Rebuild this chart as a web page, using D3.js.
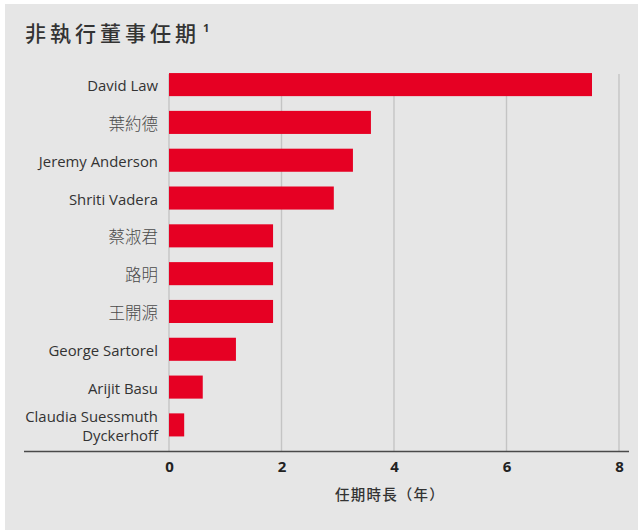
<!DOCTYPE html>
<html>
<head>
<meta charset="utf-8">
<script src="https://cdn.jsdelivr.net/npm/d3@7/dist/d3.min.js"></script>
<style>
  html, body { margin: 0; padding: 0; background: #ffffff; }
  svg { display: block; }
</style>
</head>
<body>
<svg id="chart" width="638" height="531"></svg>
<script>
// Tenure of non-executive directors, in years
const directors = [
  ["David Law"],
  ["葉約德"],
  ["Jeremy Anderson"],
  ["Shriti Vadera"],
  ["蔡淑君"],
  ["路明"],
  ["王開源"],
  ["George Sartorel"],
  ["Arijit Basu"],
  ["Claudia Suessmuth", "Dyckerhoff"]
];
const tenureYears = [7.52, 3.59, 3.27, 2.93, 1.85, 1.85, 1.85, 1.19, 0.60, 0.27];
const xTicks = [0, 2, 4, 6, 8];

const chartTitle = "非執行董事任期";
const titleNote = "1";
const axisTitle = "任期時長（年）";

const latinFont = "'Open Sans', 'Noto Sans', 'Noto Sans CJK TC', sans-serif";
const cjkFont = "'Noto Sans CJK TC', 'Noto Sans', sans-serif";

const svg = d3.select("#chart");
const W = 638, H = 531;

// panel background
svg.append("rect")
  .attr("x", 5).attr("y", 4)
  .attr("width", W - 5).attr("height", 526)
  .attr("fill", "#e6e6e6");

const axisY = 451.5;

const x = d3.scaleLinear()
  .domain([0, 8])
  .range([169, 619]);

const keys = directors.map((d, i) => i);
const y = d3.scaleBand()
  .domain(keys)
  .range([65.5, 444])
  .paddingInner(0.39)
  .paddingOuter(0.2);

// title with footnote marker
const title = svg.append("text")
  .attr("x", 25).attr("y", 41)
  .attr("font-family", cjkFont)
  .attr("font-size", 21)
  .attr("font-weight", 500)
  .attr("letter-spacing", 4)
  .attr("fill", "#333333")
  .text(chartTitle);
svg.append("text")
  .attr("x", 203).attr("y", 32)
  .attr("font-family", latinFont)
  .attr("font-size", 11)
  .attr("font-weight", 700)
  .attr("fill", "#333333")
  .text(titleNote);

// vertical grid
svg.append("g")
  .selectAll("line")
  .data(xTicks)
  .join("line")
  .attr("x1", d => x(d)).attr("x2", d => x(d))
  .attr("y1", 74).attr("y2", axisY)
  .attr("stroke", "#c4c4c4")
  .attr("stroke-width", 1.4);

// bars
svg.append("g")
  .selectAll("rect")
  .data(tenureYears)
  .join("rect")
  .attr("x", x(0))
  .attr("y", (d, i) => y(i))
  .attr("width", d => x(d) - x(0))
  .attr("height", y.bandwidth())
  .attr("fill", "#e60023");

// category labels
const isCJK = s => /[\u3400-\u9fff]/.test(s);
const labels = svg.append("g");
directors.forEach((lines, i) => {
  const cy = y(i) + y.bandwidth() / 2;
  const lh = 19;
  const cjk = isCJK(lines[0]);
  const t = labels.append("text")
    .attr("text-anchor", "end")
    .attr("font-family", cjk ? cjkFont : latinFont)
    .attr("font-size", cjk ? 16.5 : 14.9)
    .attr("font-weight", cjk ? 300 : 400)
    .attr("fill", cjk ? "#4a4a4a" : "#333333");
  lines.forEach((ln, j) => {
    t.append("tspan")
      .attr("x", 158)
      .attr("y", cy + (j - (lines.length - 1) / 2) * lh + 1.5)
      .attr("dy", "0.35em")
      .text(ln);
  });
});

// x axis
const xAxis = d3.axisBottom(x)
  .tickValues(xTicks)
  .tickSize(0)
  .tickPadding(10)
  .tickFormat(d3.format("d"));

const ax = svg.append("g")
  .attr("transform", `translate(0,${axisY})`)
  .call(xAxis);
ax.select(".domain").remove();
ax.selectAll("text")
  .attr("font-family", latinFont)
  .attr("font-size", 15)
  .attr("font-weight", 700)
  .attr("fill", "#222222");

svg.append("line")
  .attr("x1", 24).attr("x2", 629)
  .attr("y1", axisY).attr("y2", axisY)
  .attr("stroke", "#4a4a4a")
  .attr("stroke-width", 1.6);

// axis title
svg.append("text")
  .attr("x", 390).attr("y", 500)
  .attr("text-anchor", "middle")
  .attr("font-family", cjkFont)
  .attr("font-size", 14.5)
  .attr("font-weight", 500)
  .attr("letter-spacing", 1.2)
  .attr("fill", "#333333")
  .text(axisTitle);
</script>
</body>
</html>
